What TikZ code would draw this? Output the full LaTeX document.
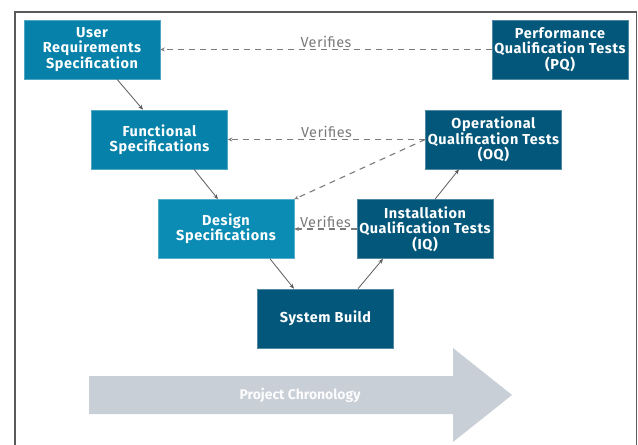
\documentclass[tikz,border=0pt]{standalone}
\usepackage{fontspec}
\setmainfont{Fira Sans}
\newfontfamily\boxfont[LetterSpace=4]{Fira Sans}
\newfontfamily\labelfont[LetterSpace=3]{Fira Sans}
\usetikzlibrary{arrows.meta}
\definecolor{lightblue}{HTML}{0682AA}
\definecolor{midblue}{HTML}{0B8CB4}
\definecolor{darkblue}{HTML}{03577A}
\definecolor{linegray}{HTML}{5A5A5A}
\definecolor{dashgray}{HTML}{7A7A7A}
\definecolor{chrono}{HTML}{C9CFD7}
\tikzset{
  x=1bp, y=-1bp,
  box/.style={draw=#1!70!white, line width=0.6bp, fill=#1, text=white,
    font=\boxfont\fontsize{14.5}{15.5}\selectfont\bfseries, align=center,
    minimum width=136bp, minimum height=59bp, inner sep=0bp},
  flow/.style={draw=linegray, line width=0.8bp, -{Stealth[length=5bp,width=4bp]}},
  verify/.style={draw=dashgray, line width=1.1bp, dash pattern=on 6bp off 5bp,
    -{Stealth[length=4.5bp,width=4bp]}},
  vlabel/.style={text=dashgray, font=\labelfont\fontsize{14.5}{15}\selectfont, inner sep=1.2bp}
}
\begin{document}
\begin{tikzpicture}
\useasboundingbox (0,0) rectangle (638,445);
\begin{scope}
\clip (0,0) rectangle (638,445);
\draw[linegray, line width=1.8bp] (15,470) -- (15,12) -- (636.5,12) -- (636.5,470);
\end{scope}

% project chronology arrow
\fill[chrono] (89,376) -- (453,376) -- (453,348) -- (512,395) -- (453,442) -- (453,414) -- (89,414) -- cycle;
\node[text=white!94!chrono, font=\fontsize{14}{15}\selectfont\bfseries] (chron) at (300,395) {Project Chronology};

% left branch
\node[box=lightblue] (urs) at (92,49.5) {User\\Requirements\\Specification};
\node[box=lightblue] (fs) at (159.5,139.5) {Functional\\Specifications};
\node[box=midblue] (ds) at (226,229) {Design\\Specifications};
% bottom
\node[box=darkblue] (sb) at (325.5,318.5) {System Build};
% right branch
\node[box=darkblue] (iq) at (425,229) {Installation\\Qualification Tests\\(IQ)};
\node[box=darkblue] (oq) at (493.5,139.5) {Operational\\Qualification Tests\\(OQ)};
\node[box=darkblue] (pq) at (560,49.5) {Performance\\Qualification Tests\\(PQ)};

% development flow
\draw[flow] (urs.south -| 117,0) -- (fs.north -| 143,0);
\draw[flow] (fs.south -| 194,0) -- (ds.north -| 218,0);
\draw[flow] (ds.south -| 270,0) -- (sb.north -| 294,0);
\draw[flow] (sb.north -| 358,0) -- (iq.south -| 383,0);
\draw[flow] (iq.north -| 435,0) -- (oq.south -| 459,0);

% verification links
\draw[verify] (pq.west) -- node[vlabel, above, pos=0.5] (v1) {Verifies} (urs.east);
\draw[verify] (oq.west) -- node[vlabel, above, pos=0.5] (v2) {Verifies} (fs.east);
\draw[verify] (oq.west) -- (ds.north east);
\draw[verify] (iq.west) -- node[vlabel, above, pos=0.5] (v3) {Verifies} (ds.east);
\end{tikzpicture}
\end{document}
